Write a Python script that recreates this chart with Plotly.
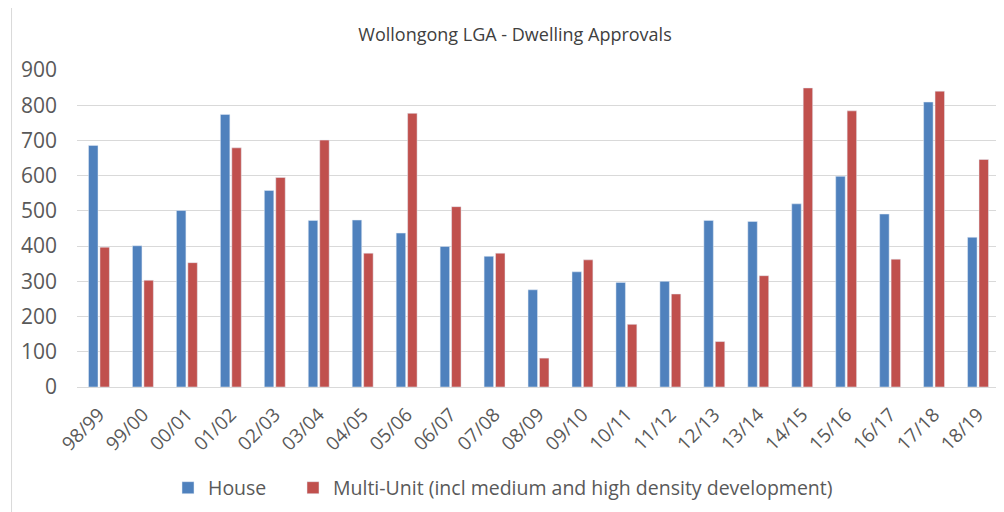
import plotly.graph_objects as go

categories = ["98/99", "99/00", "00/01", "01/02", "02/03", "03/04", "04/05", "05/06",
              "06/07", "07/08", "08/09", "09/10", "10/11", "11/12", "12/13", "13/14",
              "14/15", "15/16", "16/17", "17/18", "18/19"]
house = [686, 401, 501, 774, 558, 473, 474, 437, 399, 371, 276, 327, 297, 300,
         473, 470, 520, 598, 491, 809, 425]
multi_unit = [397, 303, 353, 679, 595, 701, 380, 777, 512, 380, 82, 361, 178, 264,
              129, 316, 849, 784, 363, 840, 646]

FONT = "Open Sans, Lato, sans-serif"
W, H = 996, 504          # page body has an 8px margin
L, T = 68.5, 62
PW = 923.5
PH = 317.3

fig = go.Figure()
fig.add_trace(go.Bar(x=categories, y=house, name="House", marker_color="#4F81BD",
                     legend="legend"))
fig.add_trace(go.Bar(x=categories, y=multi_unit,
                     name="Multi-Unit (incl medium and high density development)",
                     marker_color="#C0504D", legend="legend2"))

leg_common = dict(font=dict(size=19.5, color="#595959", family=FONT), itemwidth=30,
                  xref="container", yref="container", yanchor="middle",
                  xanchor="left", bgcolor="rgba(0,0,0,0)")

fig.update_layout(
    width=W, height=H,
    margin=dict(l=L, r=W - L - PW, t=T, b=H - T - PH, autoexpand=False),
    paper_bgcolor="white", plot_bgcolor="white",
    barmode="group", bargap=0.48, bargroupgap=0.17,
    font=dict(family=FONT, color="#595959"),
    title=dict(text="Wollongong LGA - Dwelling Approvals", x=(515 - 8) / W, xref="container",
               xanchor="center", y=1 - 27 / H, yanchor="middle", automargin=False,
               font=dict(size=18, color="#404040", family=FONT)),
    showlegend=True,
    legend=dict(x=160 / W, y=1 - 480 / H, **leg_common),
    legend2=dict(x=285 / W, y=1 - 480 / H, **leg_common),
    xaxis=dict(tickangle=-45, tickfont=dict(size=19, color="#595959"),
               showline=True, linecolor="#D9D9D9", ticks="", showgrid=False,
               automargin=False, ticklabelstandoff=8),
    yaxis=dict(range=[0, 900], dtick=100, tickfont=dict(size=21, color="#595959"),
               showgrid=True, gridcolor="#D9D9D9", gridwidth=1, zeroline=False,
               ticks="", showline=False, automargin=False, ticklabelstandoff=19),
    shapes=[dict(type="line", xref="paper", yref="paper",
                 x0=(3 - L) / PW, x1=(3 - L) / PW, y0=-(H - T - PH) / PH - 0.1,
                 y1=(H - (H - T - PH)) / PH + 0.1,
                 line=dict(color="#D9D9D9", width=1))],
)

fig.write_html("out.html")
